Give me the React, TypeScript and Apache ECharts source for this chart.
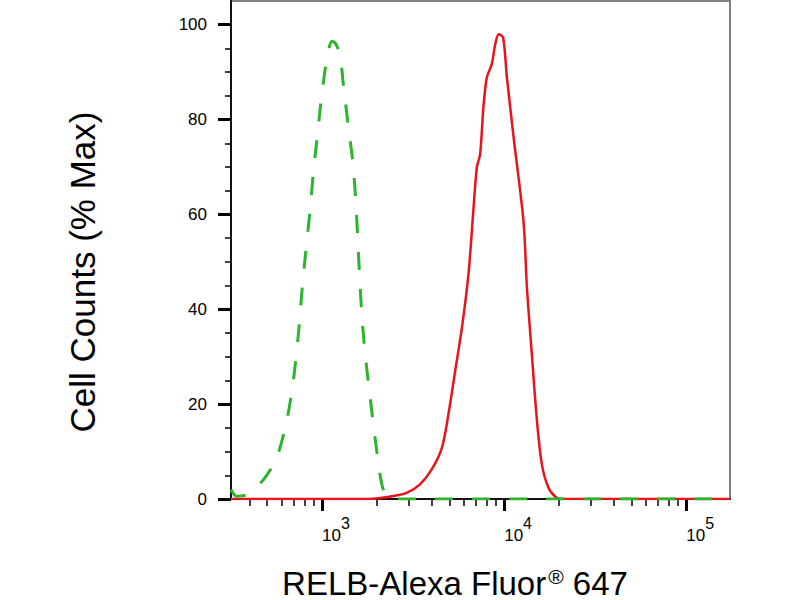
import React, { useEffect, useRef } from 'react';
import * as echarts from 'echarts';

// x values are log10 of the fluorescence intensity, y values are % of max
const controlLog = [2.5, 2.53, 2.58, 2.63, 2.687, 2.751, 2.806, 2.842, 2.87, 2.89, 2.91, 2.934, 2.953, 2.975, 2.999, 3.031, 3.055, 3.075, 3.099, 3.118, 3.145, 3.17, 3.187, 3.2, 3.218, 3.237, 3.264, 3.291, 3.328, 3.36, 3.4, 4.5, 5.24];
const controlCounts = [2.0, 0.6, 0.8, 2.2, 4.5, 8.7, 16.5, 24.9, 34.7, 44.0, 52.0, 60.8, 69.2, 76.9, 85.4, 93.8, 96.5, 96.0, 93.5, 87.0, 78.3, 70.6, 61.5, 51.6, 39.0, 30.5, 21.4, 12.9, 3.1, 0.3, 0, 0, 0];

const relbLog = [2.5, 3.25, 3.32, 3.4, 3.465, 3.538, 3.603, 3.658, 3.694, 3.731, 3.768, 3.804, 3.832, 3.85, 3.868, 3.886, 3.905, 3.932, 3.951, 3.97, 3.994, 4.015, 4.052, 4.106, 4.125, 4.152, 4.18, 4.207, 4.243, 4.29, 4.32, 5.24];
const relbCounts = [0, 0, 0.2, 0.7, 1.3, 3.1, 6.3, 10.8, 17.9, 27.0, 36.1, 47.4, 61.5, 69.9, 72.7, 82.6, 88.9, 91.7, 95.9, 98.0, 97.3, 88.9, 76.2, 58.6, 44.6, 30.5, 16.5, 7.3, 2.4, 0.2, 0, 0];

const decades = [3, 4, 5];
const minorMultipliers = [2, 3, 4, 5, 6, 7, 8, 9];
const yMajor = [0, 20, 40, 60, 80, 100];
const yMinor = [5, 10, 15, 25, 30, 35, 45, 50, 55, 65, 70, 75, 85, 90, 95];

const X_MIN = 2.5;
const X_MAX = 5.24;
const FONT = 'Liberation Sans, Arial, Helvetica, sans-serif';

const xMinor = [2, 3, 4]
  .flatMap((d) => minorMultipliers.map((m) => d + Math.log10(m)))
  .filter((v) => v > X_MIN && v < X_MAX);

const App: React.FC = () => {
  const chartRef = useRef<HTMLDivElement | null>(null);

  useEffect(() => {
    if (!chartRef.current) return;
    const chart = echarts.init(chartRef.current, undefined, { renderer: 'svg' });

    const hidden = { show: false };
    const option = {
      animation: false,
      backgroundColor: '#fff',
      grid: {
        left: 231,
        right: 70,
        top: 1,
        bottom: 101,
        show: true,
        borderColor: '#808080',
        borderWidth: 2,
        outerBoundsMode: 'none',
      },
      xAxis: [
        {
          type: 'value',
          position: 'bottom',
          min: X_MIN,
          max: X_MAX,
          splitLine: hidden,
          axisLine: { show: true, lineStyle: { color: '#111', width: 2 } },
          axisTick: {
            show: true,
            customValues: decades,
            length: 12,
            lineStyle: { color: '#000', width: 3 },
          },
          axisLabel: {
            customValues: decades,
            margin: 16,
            align: 'left',
            fontSize: 17,
            fontFamily: FONT,
            color: '#000',
            formatter: (v: number) => `{b|10}{s|${Math.round(v)}}`,
            rich: {
              b: { fontSize: 17, fontFamily: FONT, color: '#000', padding: [12, 0, 0, 0] },
              s: { fontSize: 16, fontFamily: FONT, color: '#000', verticalAlign: 'top' },
            },
          },
        },
        {
          type: 'value',
          position: 'bottom',
          min: X_MIN,
          max: X_MAX,
          splitLine: hidden,
          axisLine: hidden,
          axisLabel: hidden,
          axisTick: {
            show: true,
            customValues: xMinor,
            length: 7,
            lineStyle: { color: '#000', width: 1.5 },
          },
        },
      ],
      yAxis: [
        {
          type: 'value',
          position: 'left',
          min: 0,
          max: 105,
          splitLine: hidden,
          axisLine: { show: true, lineStyle: { color: '#111', width: 2 } },
          axisTick: {
            show: true,
            customValues: yMajor,
            length: 13,
            lineStyle: { color: '#000', width: 3 },
          },
          axisLabel: {
            customValues: yMajor,
            margin: 24,
            fontSize: 17,
            fontFamily: FONT,
            color: '#000',
          },
        },
        {
          type: 'value',
          position: 'left',
          min: 0,
          max: 105,
          splitLine: hidden,
          axisLine: hidden,
          axisLabel: hidden,
          axisTick: {
            show: true,
            customValues: yMinor,
            length: 6,
            lineStyle: { color: '#000', width: 1.5 },
          },
        },
      ],
      series: [
        {
          name: 'RELB',
          type: 'line',
          data: relbLog.map((x, i) => [x, relbCounts[i]]),
          showSymbol: false,
          smooth: 0.3,
          lineStyle: { color: '#e8131b', width: 2.5 },
        },
        {
          name: 'Control',
          type: 'line',
          data: controlLog.map((x, i) => [x, controlCounts[i]]),
          showSymbol: false,
          smooth: 0.3,
          lineStyle: { color: '#2cb52c', width: 3, type: [18, 19] },
        },
      ],
      graphic: [
        {
          type: 'text',
          x: 82,
          y: 272,
          rotation: Math.PI / 2,
          style: {
            text: 'Cell Counts (% Max)',
            fontSize: 35,
            fontFamily: FONT,
            fill: '#000',
            align: 'center',
            verticalAlign: 'middle',
          },
        },
        {
          type: 'text',
          x: 455,
          y: 583,
          style: {
            text: '{t|RELB-Alexa Fluor}{r|®}{t| 647}',
            align: 'center',
            verticalAlign: 'middle',
            rich: {
              t: { fontSize: 33, lineHeight: 34, fontFamily: FONT, fill: '#000' },
              r: { fontSize: 21, fontFamily: FONT, fill: '#000', verticalAlign: 'top', padding: [0, 0, 0, 2] },
            },
          },
        },
      ],
    };

    chart.setOption(option);
    return () => {
      chart.dispose();
    };
  }, []);

  return (
    <div
      ref={chartRef}
      style={{ position: 'fixed', left: 0, top: 0, width: '800px', height: '600px' }}
    />
  );
};

export default App;
